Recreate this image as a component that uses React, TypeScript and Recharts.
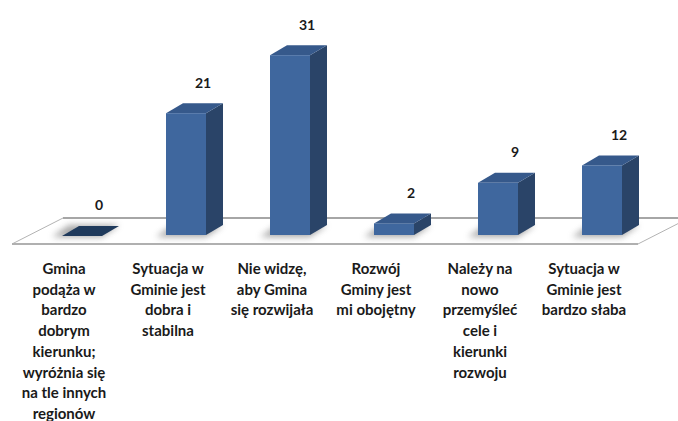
import { BarChart, Bar, XAxis, YAxis, ReferenceArea, LabelList } from "recharts";

const categories = [
  "Gmina\npodąża w\nbardzo\ndobrym\nkierunku;\nwyróżnia się\nna tle innych\nregionów",
  "Sytuacja w\nGminie jest\ndobra i\nstabilna",
  "Nie widzę,\naby Gmina\nsię rozwijała",
  "Rozwój\nGminy jest\nmi obojętny",
  "Należy na\nnowo\nprzemyśleć\ncele i\nkierunki\nrozwoju",
  "Sytuacja w\nGminie jest\nbardzo słaba",
];
const values = [0, 21, 31, 2, 9, 12];

const data = categories.map((name, i) => ({ name, value: values[i] }));

const FONT = "Lato, 'Open Sans', sans-serif";
const DX = 17; // depth offset of the 3d boxes
const DY = 10;
const SHIFT = 18; // bars sit back on the floor, right of the label

const Floor = (props: any) => {
  const { x, y, width, height } = props;
  const skew = 51;
  const fy = y + height;
  const r = x + width + 2;
  return (
    <g>
      <defs>
        <filter id="soft" x="-50%" y="-50%" width="200%" height="200%">
          <feGaussianBlur stdDeviation="3" />
        </filter>
      </defs>
      <polygon
        points={`${x},${fy} ${r},${fy} ${r + skew},${y} ${x + skew},${y}`}
        fill="#ffffff"
        stroke="#b3b3b3"
        strokeWidth={1}
      />
      <line x1={x + skew} y1={y} x2={r + skew} y2={y} stroke="#a6a6a6" strokeWidth={2} />
      <line x1={x} y1={fy} x2={r} y2={fy} stroke="#b0b0b0" strokeWidth={2} />
    </g>
  );
};

const Box = (props: any) => {
  const { x, y, width, height, value } = props;
  const x0 = x + SHIFT;
  const w = width;
  const base = y + height;
  const top = y;
  const shadow = (
    <polygon
      points={`${x0 - 10},${base + 2} ${x0 + w},${base + 2} ${x0 + w + DX},${base - DY} ${x0 + DX - 10},${base - DY}`}
      fill="#6e6e6e"
      opacity={0.6}
      filter="url(#soft)"
    />
  );
  if (!value) {
    return (
      <g>
        {shadow}
        <polygon
          points={`${x0},${base + 1} ${x0 + w},${base + 1} ${x0 + w + DX},${base - DY + 1} ${x0 + DX},${base - DY + 1}`}
          fill="#1f3a5c"
        />
      </g>
    );
  }
  return (
    <g>
      {shadow}
      <polygon
        points={`${x0 + w},${top} ${x0 + w + DX},${top - DY} ${x0 + w + DX},${base - DY} ${x0 + w},${base}`}
        fill="#2a4468"
      />
      <polygon
        points={`${x0},${top} ${x0 + DX},${top - DY} ${x0 + w + DX},${top - DY} ${x0 + w},${top}`}
        fill="#36598b"
      />
      <rect x={x0} y={top} width={w} height={height} fill="#3f679e" />
    </g>
  );
};

const ValueLabel = (props: any) => {
  const { x, y, width, value } = props;
  return (
    <text
      x={x + SHIFT + width / 2 + DX}
      y={y - 31}
      textAnchor="middle"
      dominantBaseline="central"
      fontFamily={FONT}
      fontWeight={700}
      fontSize={14}
      fill="#1a1a1a"
    >
      {value}
    </text>
  );
};

const CategoryTick = (props: any) => {
  const { x, y, payload } = props;
  const lines = String(payload.value).split("\n");
  return (
    <text
      x={x}
      y={y}
      textAnchor="middle"
      fontFamily={FONT}
      fontWeight={700}
      fontSize={15}
      fill="#1a1a1a"
    >
      {lines.map((l, i) => (
        <tspan key={i} x={x} dy={i === 0 ? 2 : 20.7}>
          {l}
        </tspan>
      ))}
    </text>
  );
};

export default function App() {
  return (
    <div style={{ position: "fixed", left: 0, top: 0, background: "#fff" }}>
      <BarChart
        width={678}
        height={421}
        data={data}
        margin={{ top: 3, right: 42, bottom: 0, left: 12 }}
        barSize={40}
      >
        <YAxis hide domain={[-5, 40]} />
        <XAxis
          dataKey="name"
          axisLine={false}
          tickLine={false}
          height={157}
          interval={0}
          tick={<CategoryTick />}
        />
        <ReferenceArea y1={-1.55} y2={2.93} ifOverflow="visible" shape={<Floor />} />
        <Bar dataKey="value" shape={<Box />} isAnimationActive={false}>
          <LabelList dataKey="value" content={<ValueLabel />} />
        </Bar>
      </BarChart>
    </div>
  );
}
